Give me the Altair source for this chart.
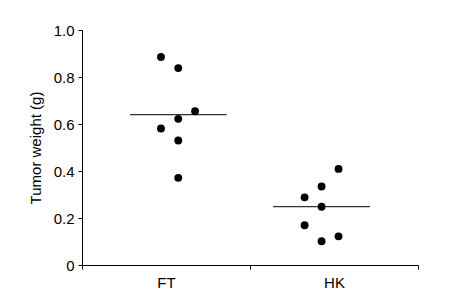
import altair as alt
import pandas as pd

groups = ["FT", "HK"]
ft_values = [0.885, 0.838, 0.654, 0.622, 0.581, 0.530, 0.371]
ft_xpos = [0.470, 0.573, 0.673, 0.573, 0.470, 0.573, 0.573]
hk_values = [0.409, 0.334, 0.288, 0.248, 0.169, 0.122, 0.101]
hk_xpos = [1.527, 1.426, 1.325, 1.426, 1.325, 1.527, 1.426]
means = [0.640, 0.248]
mean_x_start = [0.286, 1.137]
mean_x_end = [0.861, 1.714]

pts = pd.DataFrame({
    "x": ft_xpos + hk_xpos,
    "y": ft_values + hk_values,
    "group": ["FT"] * len(ft_values) + ["HK"] * len(hk_values),
})
mean_df = pd.DataFrame({"group": groups, "y": means, "x1": mean_x_start, "x2": mean_x_end})

label_expr = "datum.value == 0.5 ? 'FT' : (datum.value == 1.5 ? 'HK' : '')"

xscale = alt.Scale(domain=[0, 2], nice=False, zero=False)
yscale = alt.Scale(domain=[0, 1], nice=False)

xaxis = alt.Axis(
    values=[0, 0.5, 1, 1.5, 2], labelExpr=label_expr, title=None, grid=False,
    tickColor={"condition": {"test": "datum.value == 0.5 || datum.value == 1.5", "value": "transparent"}, "value": "black"},
    tickSize=4, labelPadding=6, labelFontSize=15, labelFont="Liberation Sans",
    domainColor="black", labelColor="black",
)
yaxis = alt.Axis(
    values=[0, 0.2, 0.4, 0.6, 0.8, 1.0],
    labelExpr="datum.value == 0 ? '0' : format(datum.value, '.1f')",
    title="Tumor weight (g)", grid=False, tickSize=4, tickColor="black",
    domainColor="black", labelColor="black", labelFontSize=15, labelFont="Liberation Sans",
    titleFont="Liberation Sans", titleFontSize=15, titleFontWeight="normal", titleColor="black",
    titlePadding=10, labelPadding=4,
)

points = alt.Chart(pts).mark_circle(size=62, color="black", opacity=1).encode(
    x=alt.X("x:Q", scale=xscale, axis=xaxis),
    y=alt.Y("y:Q", scale=yscale, axis=yaxis),
)
lines = alt.Chart(mean_df).mark_rule(color="#333333", strokeWidth=1.2).encode(
    x=alt.X("x1:Q", scale=xscale),
    x2="x2:Q",
    y=alt.Y("y:Q", scale=yscale),
)

chart = alt.layer(lines, points).properties(
    width=336, height=235,
    autosize=alt.AutoSizeParams(type="none"),
    padding={"left": 74, "top": 22, "right": 20, "bottom": 30},
).configure(background="white").configure_view(stroke=None)

chart.save("out.html", embed_options={"renderer": "svg", "actions": False})
